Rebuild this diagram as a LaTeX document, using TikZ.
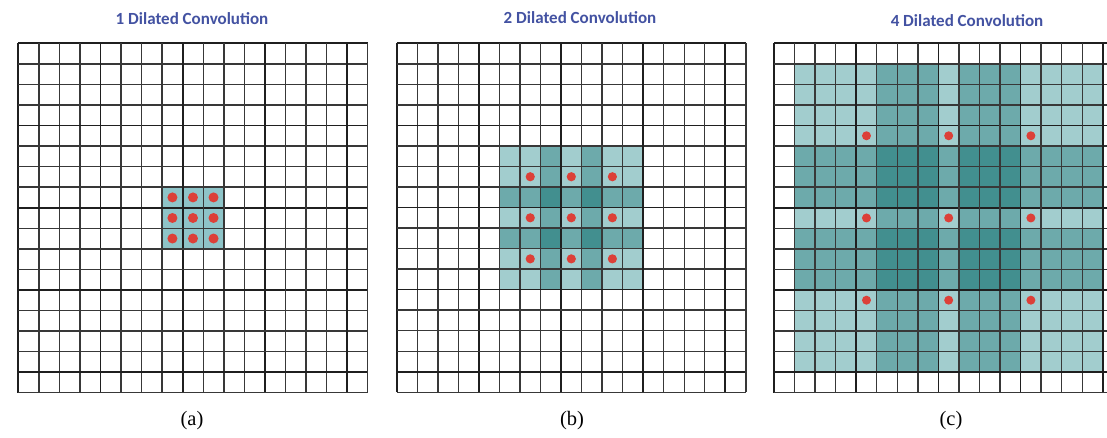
\documentclass[tikz,border=0pt]{standalone}
\usepackage{fontspec}
\setmainfont{Liberation Serif}
\newfontfamily\titlefont{Carlito}
\definecolor{lvA}{HTML}{8EC4C8}
\definecolor{lv0}{HTML}{A2CDCE}
\definecolor{lv1}{HTML}{6DAAAB}
\definecolor{lv2}{HTML}{428F8F}
\definecolor{dotred}{HTML}{DC4038}
\definecolor{titleblue}{HTML}{4352A2}
\definecolor{gridc}{HTML}{383838}
\tikzset{
  gridline/.style={draw=gridc, line width=1.45pt},
  gridthick/.style={draw=black!88, line width=1.65pt},
  dotmark/.style={fill=dotred, draw=none},
  titlelabel/.style={font=\titlefont\bfseries\fontsize{17}{20}\selectfont, text=titleblue, inner sep=0pt},
  sublabel/.style={font=\fontsize{20.5}{24}\selectfont, inner sep=0pt},
}
\newcommand{\drawgridlines}{%
  \foreach \i in {0,...,17} {%
    \pgfmathtruncatemacro\md{mod(\i,4)}%
    \ifnum\md=0
      \draw[gridthick] (\i,0) -- (\i,17);
      \draw[gridthick] (0,\i) -- (17,\i);
    \else
      \draw[gridline] (\i,0) -- (\i,17);
      \draw[gridline] (0,\i) -- (17,\i);
    \fi
  }%
}
\begin{document}
\begin{tikzpicture}[x=1pt,y=-1pt]
\useasboundingbox (0,0) rectangle (1107,438);
\clip (0,0) rectangle (1107,438);
\fill[white] (0,0) rectangle (1107,438);

% titles
\node[titlelabel] (ta) at (192,19) {1 Dilated Convolution};
\node[titlelabel] (tb) at (580,18) {2 Dilated Convolution};
\node[titlelabel] (tc) at (967,21) {4 Dilated Convolution};

% sublabels
\node[sublabel] (la) at (192,421) {(a)};
\node[sublabel] (lb) at (572,421) {(b)};
\node[sublabel] (lc) at (951,421) {(c)};

% grid (a)
\begin{scope}[xshift=18.3pt, yshift=-43.3pt, x=20.55pt, y=-20.55pt]
  \fill[lvA] (7,7) rectangle (10,10);
  \drawgridlines
  \foreach \r in {-1,0,1} \foreach \c in {-1,0,1}
    \fill[dotmark] (8.5+\c,8.5+\r) circle[radius=5pt];
\end{scope}

% grid (b)
\begin{scope}[xshift=396.8pt, yshift=-43.3pt, x=20.53pt, y=-20.53pt]
  \foreach \r in {-3,...,3} \foreach \c in {-3,...,3} {
    \pgfmathtruncatemacro\lv{(abs(\r)==1)+(abs(\c)==1)}
    \fill[lv\lv] (8+\c,8+\r) rectangle +(1,1);
  }
  \drawgridlines
  \foreach \r in {-2,0,2} \foreach \c in {-2,0,2}
    \fill[dotmark] (8.5+\c,8.5+\r) circle[radius=4.6pt];
\end{scope}

% grid (c)
\begin{scope}[xshift=774pt, yshift=-43.3pt, x=20.55pt, y=-20.55pt]
  \foreach \r in {-7,...,7} \foreach \c in {-7,...,7} {
    \pgfmathtruncatemacro\lv{(abs(\r)>0)*(abs(\r)<4)+(abs(\c)>0)*(abs(\c)<4)}
    \fill[lv\lv] (8+\c,8+\r) rectangle +(1,1);
  }
  \drawgridlines
  \foreach \r in {-4,0,4} \foreach \c in {-4,0,4}
    \fill[dotmark] (8.5+\c,8.5+\r) circle[radius=4.5pt];
\end{scope}
\end{tikzpicture}
\end{document}
